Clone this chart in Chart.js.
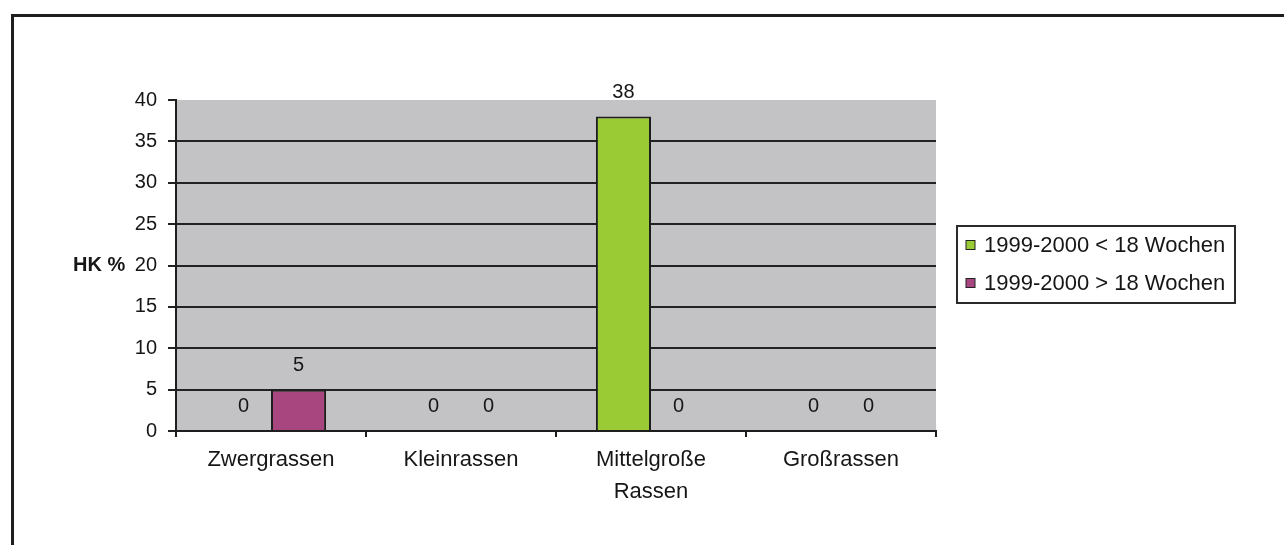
<!DOCTYPE html>
<html>
<head>
<meta charset="utf-8">
<script src="https://cdn.jsdelivr.net/npm/chart.js@4/dist/chart.umd.min.js"></script>
<style>
  html, body { margin: 0; padding: 0; background: #fff; overflow: hidden; }
  #wrap { position: relative; width: 1284px; height: 545px; }
  #frame {
    position: absolute; left: 11px; top: 14px; width: 1400px; height: 700px;
    border: 3px solid #1e1e1e; box-sizing: border-box;
  }
  canvas { position: absolute; left: 0; top: 0; }
</style>
</head>
<body>
<div id="wrap">
  <div id="frame"></div>
  <canvas id="chart" width="1284" height="545"></canvas>
</div>
<script>
const categories = ['Zwergrassen', 'Kleinrassen', ['Mittelgroße', 'Rassen'], 'Großrassen'];
const seriesNames = ['1999-2000 < 18 Wochen', '1999-2000 > 18 Wochen'];
const under18 = [0, 0, 38, 0];
const over18 = [5, 0, 0, 0];
const yTicks = [0, 5, 10, 15, 20, 25, 30, 35, 40];

const FONT = '"Liberation Sans", Arial, sans-serif';
const TEXT = '#161616';
const seriesColors = ['#9acb34', '#a8467f'];

// gray plot background
const plotBg = {
  id: 'plotBg',
  beforeDraw(chart) {
    const a = chart.chartArea, ctx = chart.ctx;
    ctx.save();
    ctx.fillStyle = '#c3c3c6';
    ctx.fillRect(a.left, a.top, a.right - a.left, a.bottom - a.top);
    ctx.restore();
  }
};

// value labels above each bar
const valueLabels = {
  id: 'valueLabels',
  afterDatasetsDraw(chart) {
    const ctx = chart.ctx;
    ctx.save();
    ctx.font = '20px ' + FONT;
    ctx.fillStyle = TEXT;
    ctx.textAlign = 'center';
    ctx.textBaseline = 'alphabetic';
    chart.data.datasets.forEach((ds, i) => {
      chart.getDatasetMeta(i).data.forEach((bar, j) => {
        ctx.fillText(String(ds.data[j]), bar.x, bar.y - 19);
      });
    });
    ctx.restore();
  }
};

// y axis title (horizontal) and boxed legend
const extras = {
  id: 'extras',
  afterDraw(chart) {
    const ctx = chart.ctx;
    const y = chart.scales.y;
    ctx.save();
    ctx.font = 'bold 20px ' + FONT;
    ctx.fillStyle = TEXT;
    ctx.textAlign = 'left';
    ctx.textBaseline = 'middle';
    ctx.fillText('HK %', 73, y.getPixelForValue(20));

    // legend
    const lx = 957, ly = 226, lw = 278, lh = 77;
    ctx.fillStyle = '#ffffff';
    ctx.fillRect(lx, ly, lw, lh);
    ctx.strokeStyle = '#2a2a2a';
    ctx.lineWidth = 2;
    ctx.strokeRect(lx, ly, lw, lh);
    ctx.font = '22px ' + FONT;
    seriesNames.forEach((name, i) => {
      const cy = 245 + i * 38;
      ctx.fillStyle = seriesColors[i];
      ctx.fillRect(966, cy - 4.5, 9, 9);
      ctx.lineWidth = 1;
      ctx.strokeStyle = '#222';
      ctx.strokeRect(966, cy - 4.5, 9, 9);
      ctx.fillStyle = TEXT;
      ctx.fillText(name, 984, cy + 1);
    });
    ctx.restore();
  }
};

new Chart(document.getElementById('chart'), {
  type: 'bar',
  data: {
    labels: categories,
    datasets: [
      { label: seriesNames[0], data: under18, backgroundColor: seriesColors[0],
        borderColor: '#1e1e1e', borderWidth: 2 },
      { label: seriesNames[1], data: over18, backgroundColor: seriesColors[1],
        borderColor: '#1e1e1e', borderWidth: 2 }
    ]
  },
  options: {
    responsive: false,
    animation: false,
    devicePixelRatio: 1,
    layout: { padding: { left: 0, right: 348, top: 100, bottom: 0 } },
    datasets: { bar: { categoryPercentage: 0.58, barPercentage: 1 } },
    plugins: { legend: { display: false }, tooltip: { enabled: false } },
    scales: {
      x: {
        afterFit(scale) { scale.height = 114; },
        border: { color: '#1e1e1e', width: 2 },
        grid: { offset: true, drawOnChartArea: false, drawTicks: true, tickLength: 6,
                tickColor: '#1e1e1e', lineWidth: 2 },
        ticks: { color: TEXT, padding: 7, maxRotation: 0,
                 font: { family: FONT, size: 22, lineHeight: 1.45 } }
      },
      y: {
        min: 0, max: 40,
        afterFit(scale) { scale.width = 176; },
        afterBuildTicks(scale) { scale.ticks = yTicks.map(v => ({ value: v })); },
        border: { color: '#1e1e1e', width: 2 },
        grid: {
          color: (c) => (c.tick && c.tick.value === 40) ? 'rgba(0,0,0,0)' : '#222222',
          tickColor: '#222222', lineWidth: 2, tickLength: 8
        },
        ticks: { color: TEXT, padding: 11, font: { family: FONT, size: 20 } }
      }
    }
  },
  plugins: [plotBg, valueLabels, extras]
});
</script>
</body>
</html>
